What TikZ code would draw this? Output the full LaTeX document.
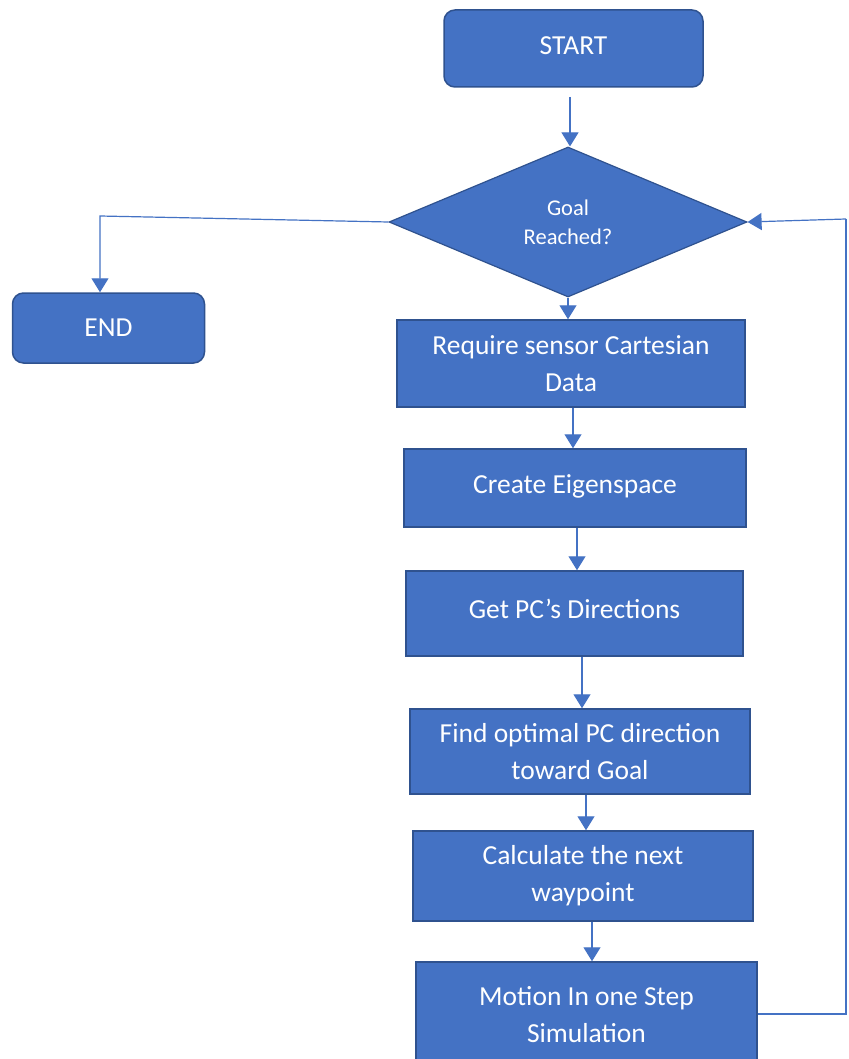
\documentclass[tikz,border=0pt]{standalone}
\usepackage{fontspec}
\setmainfont{Carlito}
\usetikzlibrary{shapes.geometric,arrows.meta}
\definecolor{boxfill}{HTML}{4472C4}
\definecolor{boxline}{HTML}{2F528F}
\definecolor{conn}{HTML}{4472C4}
\begin{document}
\begin{tikzpicture}[x=1pt,y=-1pt,
  box/.style={rectangle, fill=boxfill, draw=boxline, line width=1.5pt, text=white, align=center, inner sep=0pt,
    font=\fontsize{27.5}{37}\selectfont},
  rbox/.style={box, rounded corners=11pt},
  dia/.style={diamond, fill=boxfill, draw=boxline, line width=1.2pt, text=white, align=center, inner sep=0pt,
    minimum width=358pt, minimum height=150pt, font=\fontsize{22.5}{30}\selectfont},
  arr/.style={draw=conn, line width=1.2pt, -{Triangle[width=17pt,length=14pt]}},
  ln/.style={draw=conn, line width=1.2pt}]
\fill[white] (0,0) rectangle (848,1059);
\useasboundingbox (0,0) rectangle (848,1059);

\node[rbox, minimum width=259pt, minimum height=77pt] (start) at (573.5,48.5) {\raisebox{5pt}{START}};
\node[dia] (goal) at (568,222) {\raisebox{-4pt}{\shortstack{Goal\\[10pt]Reached?}}};
\node[rbox, minimum width=192pt, minimum height=70pt] (end) at (108.5,328) {END};
\node[box, minimum width=348pt, minimum height=87pt] (b1) at (571,363.5) {Require sensor Cartesian\\Data};
\node[box, minimum width=342pt, minimum height=78pt] (b2) at (575,488) {\raisebox{7pt}{Create Eigenspace}};
\node[box, minimum width=337pt, minimum height=85pt] (b3) at (574.5,613.5) {\raisebox{10pt}{Get PC’s Directions}};
\node[box, minimum width=340pt, minimum height=85pt] (b4) at (580,751.5) {Find optimal PC direction\\toward Goal};
\node[box, minimum width=340pt, minimum height=90pt] (b5) at (583,876) {Calculate the next\\waypoint};
\node[box, minimum width=341pt, minimum height=106pt] (b6) at (586.5,1015) {Motion In one Step\\Simulation};

\coordinate (sgap) at (570,97);
\draw[arr] (sgap) -- (sgap |- goal.north);
\draw[arr] (goal.south) -- (goal.south |- b1.north);
\draw[arr] ([xshift=2pt]b1.south) -- ([xshift=2pt]b1.south |- b2.north);
\draw[arr] ([xshift=2pt]b2.south) -- ([xshift=2pt]b2.south |- b3.north);
\draw[arr] ([xshift=2pt]b4.north |- b3.south) -- ([xshift=2pt]b4.north);
\draw[arr] ([xshift=6pt]b4.south) -- ([xshift=6pt]b4.south |- b5.north);
\draw[arr] ([xshift=9pt]b5.south) -- ([xshift=9pt]b5.south |- b6.north);

\coordinate (lcorner) at (100,216);
\draw[arr] (goal.west) -- (lcorner) -- (lcorner |- end.north);

\coordinate (rbot) at (846,1014);
\coordinate (rtop) at (846,219);
\draw[ln] (b6.east |- rbot) -- (rbot) -- (rtop);
\draw[arr] (rtop) -- (goal.east);
\end{tikzpicture}
\end{document}
